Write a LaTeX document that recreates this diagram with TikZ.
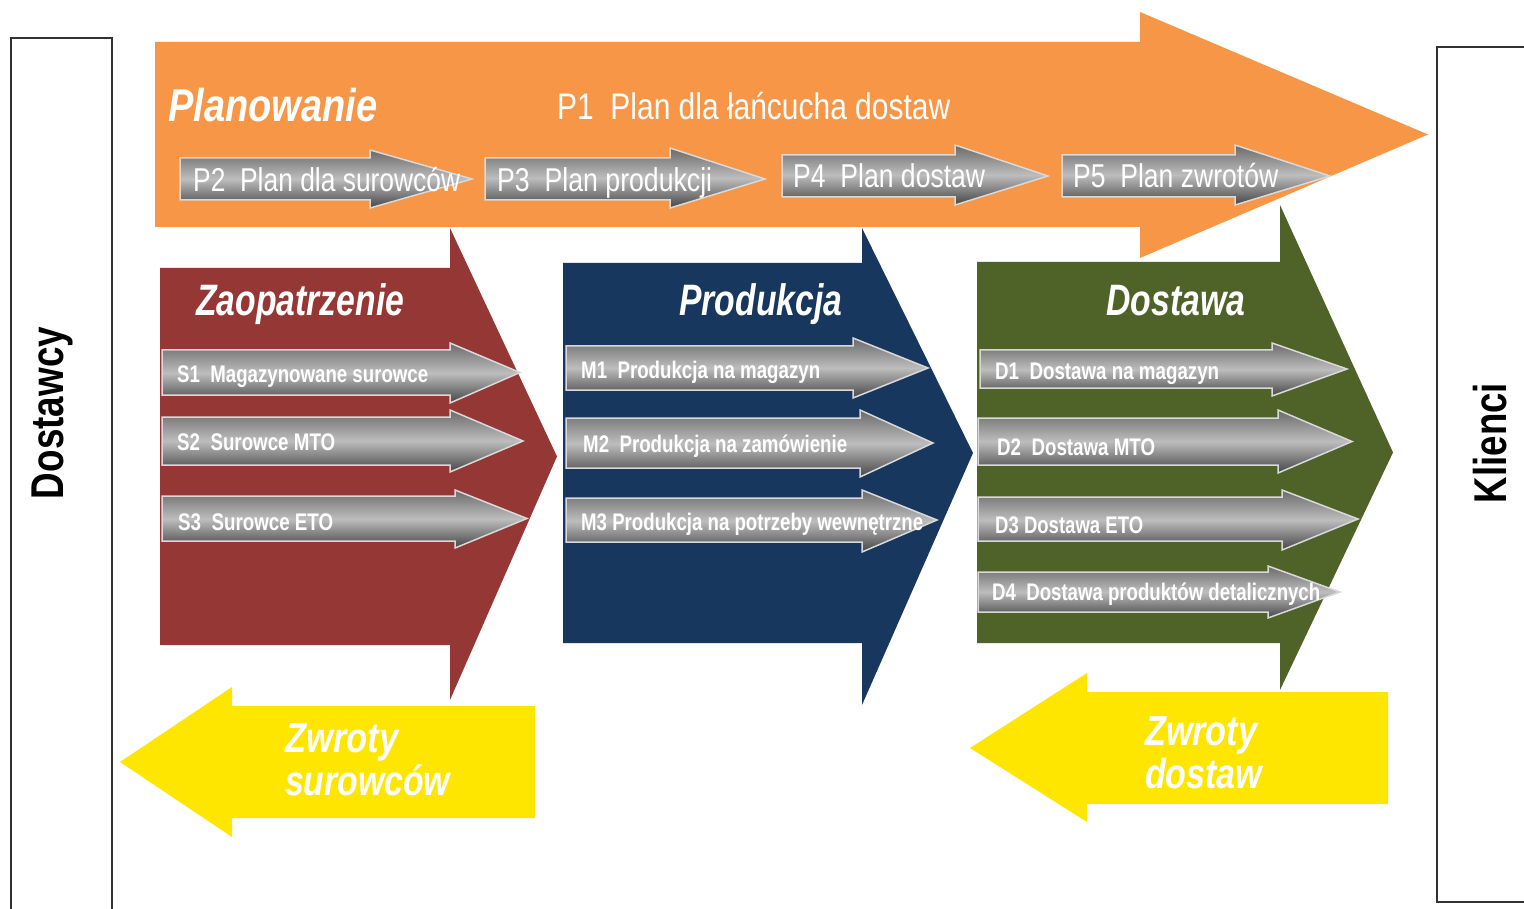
\documentclass[tikz,border=0pt]{standalone}
\usepackage{fontspec}
\setmainfont{Liberation Sans}
\usepackage{graphicx}
\definecolor{org}{HTML}{F79646}
\definecolor{redb}{HTML}{953735}
\definecolor{navy}{HTML}{17375E}
\definecolor{grn}{HTML}{4F6228}
\definecolor{yel}{HTML}{FFE600}
\definecolor{gtop}{HTML}{6A6A6A}
\definecolor{gmid}{HTML}{BDBDBD}
\definecolor{gbot}{HTML}{454545}
\definecolor{gline}{HTML}{D9D9D9}
\definecolor{boxline}{HTML}{333333}
\newcommand\fw[2]{\resizebox{#1}{\height}{#2}}
% style, start x, body top, body bottom, head base x, head top, head bottom, tip x
\newcommand\blockarw[8]{\path[#1] (#2,#3) -- (#5,#3) -- (#5,#6) -- (#8,{(#3+#4)/2}) -- (#5,#7) -- (#5,#4) -- (#2,#4) -- cycle;}
\tikzset{
  garrow/.style={top color=gtop, bottom color=gbot, middle color=gmid, draw=gline, line width=1.5pt},
  lbl/.style={anchor=base west, inner sep=0pt, text=white},
  headlbl/.style={lbl, font=\fontsize{44}{48}\selectfont\bfseries\itshape},
  plbl/.style={lbl, font=\fontsize{33}{36}\selectfont},
  smlbl/.style={lbl, font=\fontsize{24}{26}\selectfont\bfseries},
  retlbl/.style={lbl, font=\fontsize{42}{43}\selectfont\bfseries\itshape},
  sidelbl/.style={inner sep=0pt, rotate=90, font=\fontsize{46}{50}\selectfont\bfseries, text=black},
  sidebox/.style={draw=boxline, line width=2pt}
}
\begin{document}
\begin{tikzpicture}[x=1pt,y=-1pt]
\useasboundingbox (0,0) rectangle (1524,909);
\fill[white] (0,0) rectangle (1524,909);
% side boxes
\draw[sidebox] (11,909) -- (11,38) -- (112,38) -- (112,909);
\draw[sidebox] (1524,47) -- (1437,47) -- (1437,902) -- (1524,902);
\node[sidelbl] (dostawcy) at (52,413) {\fw{172pt}{Dostawcy}};
\node[sidelbl] (klienci) at (1490,443) {\fw{120pt}{Klienci}};
% big arrows
\blockarw{fill=org}{155}{42}{227}{1140}{12}{258}{1428}
\blockarw{fill=redb}{160}{268}{645}{450}{228}{700}{557}
\blockarw{fill=navy}{563}{263}{643}{862}{228}{705}{973}
\blockarw{fill=grn}{977}{262}{643}{1280}{205}{690}{1393}
% return arrows
\blockarw{fill=yel}{535}{706}{818}{232}{687}{837}{120}
\blockarw{fill=yel}{1388}{692}{804}{1087}{673}{822}{970}
% planning sub-arrows
\blockarw{garrow}{180}{158}{200}{370}{150}{208}{472}
\blockarw{garrow}{485}{158}{200}{670}{148}{208}{765}
\blockarw{garrow}{782}{155}{197}{955}{145}{205}{1048}
\blockarw{garrow}{1062}{155}{197}{1235}{145}{205}{1330}
% source
\blockarw{garrow}{162}{350}{395}{450}{343}{403}{520}
\blockarw{garrow}{162}{417}{465}{450}{410}{472}{523}
\blockarw{garrow}{162}{496}{541}{455}{490}{548}{527}
% make
\blockarw{garrow}{566}{346}{390}{853}{338}{398}{928}
\blockarw{garrow}{566}{418}{468}{860}{410}{477}{933}
\blockarw{garrow}{566}{498}{542}{862}{490}{552}{937}
% deliver
\blockarw{garrow}{980}{350}{388}{1272}{343}{396}{1347}
\blockarw{garrow}{978}{418}{465}{1278}{410}{473}{1352}
\blockarw{garrow}{978}{497}{541}{1282}{490}{550}{1358}
\blockarw{garrow}{978}{572}{612}{1268}{566}{618}{1340}
% labels
\node[headlbl, font=\fontsize{46}{50}\selectfont\bfseries\itshape] (plan) at (168,122) {\fw{209pt}{Planowanie}};
\node[plbl, font=\fontsize{37}{40}\selectfont] (p1) at (557,120) {\fw{393pt}{P1\ \ Plan dla łańcucha dostaw}};
\node[plbl] (p2) at (193,192) {\fw{267pt}{P2\ \ Plan dla surowców}};
\node[plbl] (p3) at (497,192) {\fw{215pt}{P3\ \ Plan produkcji}};
\node[plbl] (p4) at (793,188) {\fw{192pt}{P4\ \ Plan dostaw}};
\node[plbl] (p5) at (1073,188) {\fw{205pt}{P5\ \ Plan zwrotów}};
\node[headlbl] (zaop) at (196,316) {\fw{208pt}{Zaopatrzenie}};
\node[headlbl] (prod) at (679,316) {\fw{163pt}{Produkcja}};
\node[headlbl] (dost) at (1106,316) {\fw{139pt}{Dostawa}};
\node[smlbl] (s1) at (177,382) {\fw{251pt}{S1\ \ Magazynowane surowce}};
\node[smlbl] (s2) at (177,450) {\fw{158pt}{S2\ \ Surowce MTO}};
\node[smlbl] (s3) at (178,530) {\fw{155pt}{S3\ \ Surowce ETO}};
\node[smlbl] (m1) at (581,378) {\fw{239pt}{M1\ \ Produkcja na magazyn}};
\node[smlbl] (m2) at (583,452) {\fw{264pt}{M2\ \ Produkcja na zamówienie}};
\node[smlbl] (m3) at (581,530) {\fw{342pt}{M3 Produkcja na potrzeby wewnętrzne}};
\node[smlbl] (d1) at (995,380) {\fw{224pt}{D1\ \ Dostawa na magazyn}};
\node[smlbl] (d2) at (997,455) {\fw{158pt}{D2\ \ Dostawa MTO}};
\node[smlbl] (d3) at (995,533) {\fw{148pt}{D3 Dostawa ETO}};
\node[smlbl] (d4) at (992,600) {\fw{328pt}{D4\ \ Dostawa produktów detalicznych}};
\node[retlbl] (zsur) at (285,752) {\begin{tabular}[t]{@{}l@{}}\fw{113pt}{Zwroty}\\\fw{165pt}{surowców}\end{tabular}};
\node[retlbl] (zdost) at (1145,745) {\begin{tabular}[t]{@{}l@{}}\fw{112pt}{Zwroty}\\\fw{117pt}{dostaw}\end{tabular}};
\end{tikzpicture}
\end{document}
